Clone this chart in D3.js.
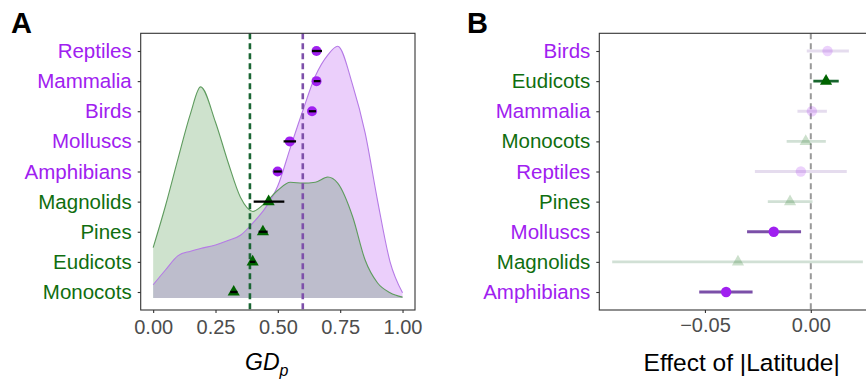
<!DOCTYPE html>
<html>
<head>
<meta charset="utf-8">
<script src="https://cdn.jsdelivr.net/npm/d3@7"></script>
<style>
  html, body { margin: 0; padding: 0; background: #fff; }
  svg { display: block; font-family: "Liberation Sans", Arial, sans-serif; }
</style>
</head>
<body>
<svg id="chart" width="866" height="379"></svg>
<script>
// ---------- Data: panel A ----------
const groupsA = ["Reptiles","Mammalia","Birds","Molluscs","Amphibians","Magnolids","Pines","Eudicots","Monocots"];
const kingdomA = ["animal","animal","animal","animal","animal","plant","plant","plant","plant"];
const gdMean = [0.655, 0.655, 0.637, 0.548, 0.499, 0.463, 0.440, 0.399, 0.323];
const gdLow  = [0.637, 0.644, 0.624, 0.523, 0.483, 0.403, 0.423, 0.388, 0.309];
const gdHigh = [0.677, 0.671, 0.653, 0.573, 0.516, 0.526, 0.459, 0.410, 0.338];
const densX      = [0, 0.05, 0.10, 0.15, 0.19, 0.25, 0.30, 0.35, 0.40, 0.45, 0.50, 0.55, 0.60, 0.65, 0.70, 0.74, 0.80, 0.85, 0.90, 0.95, 1.00];
const densAnimal = [0.15, 0.32, 0.48, 0.53, 0.56, 0.60, 0.65, 0.71, 0.85, 1.02, 1.27, 1.70, 2.12, 2.51, 2.75, 2.85, 2.41, 1.87, 1.10, 0.41, 0.06];
const densPlant  = [0.57, 1.05, 1.58, 2.09, 2.39, 1.99, 1.54, 1.14, 0.98, 1.08, 1.22, 1.31, 1.30, 1.31, 1.37, 1.30, 0.92, 0.43, 0.17, 0.06, 0.01];
const meanPlant = 0.388, meanAnimal = 0.600;
const xTicksA = [0, 0.25, 0.5, 0.75, 1.0];

// ---------- Data: panel B ----------
const groupsB = ["Birds","Eudicots","Mammalia","Monocots","Reptiles","Pines","Molluscs","Magnolids","Amphibians"];
const kingdomB = ["animal","plant","animal","plant","animal","plant","animal","plant","animal"];
const effEst  = [0.0079, 0.0072, 0.0005, -0.0024, -0.0047, -0.0098, -0.0175, -0.0344, -0.0400];
const effLow  = [-0.0019, 0.0012, -0.0063, -0.0114, -0.0264, -0.0203, -0.0301, -0.0938, -0.0527];
const effHigh = [0.0180, 0.0132, 0.0076, 0.0071, 0.0170, 0.0008, -0.0046, 0.0246, -0.0275];
const effSig  = [false, true, false, false, false, false, true, false, true];
const xTicksB = [-0.05, 0.00];

// ---------- Styles ----------
const C = {
  animalLabel: "#A020F0", plantLabel: "#0f6e0f",
  animalPt: "#A020F0", plantPt: "#006400",
  animalBar: "#7B4FA8", plantBar: "#17652d",
  animalFill: "#EBCFFB", plantFill: "#CEE2CD", overlap: "#BDBDCC",
  animalLine: "#B57AE6", plantLine: "#5E9B5E",
  animalMean: "#7E50AA", plantMean: "#1a6634",
  axisText: "#4D4D4D", tick: "#333333", border: "#333333"
};
const FONT_LBL = 20.5, FONT_TICK = 20, FONT_TITLE = 24.5;

const svg = d3.select("#chart");

// ================= PANEL A =================
const A = { left: 140.7, right: 415, top: 33.3, bottom: 310 };
const xA = d3.scaleLinear().domain([-0.05, 1.05]).range([A.left, A.right]);
const yA = d3.scalePoint().domain(groupsA).range([51, 292]);
const yDens = d3.scaleLinear().domain([0, 3]).range([298, 33]);

const gA = svg.append("g");
const animalPts = densX.map((x, i) => ({ x, y: densAnimal[i] }));
const plantPts = densX.map((x, i) => ({ x, y: densPlant[i] }));
const area = d3.area().x(d => xA(d.x)).y0(yDens(0)).y1(d => yDens(d.y)).curve(d3.curveMonotoneX);
const line = d3.line().x(d => xA(d.x)).y(d => yDens(d.y)).curve(d3.curveMonotoneX);

const defs = svg.append("defs");
defs.append("clipPath").attr("id", "clipAnimal").append("path").attr("d", area(animalPts));
defs.append("clipPath").attr("id", "clipB").append("rect")
  .attr("x", 599.3).attr("y", 33.3).attr("width", 280).attr("height", 276.7);

gA.append("path").attr("d", area(animalPts)).attr("fill", C.animalFill);
gA.append("path").attr("d", area(plantPts)).attr("fill", C.plantFill);
gA.append("path").attr("d", area(plantPts)).attr("fill", C.overlap).attr("clip-path", "url(#clipAnimal)");
gA.append("path").attr("d", line(animalPts)).attr("fill", "none").attr("stroke", C.animalLine).attr("stroke-width", 1.1);
gA.append("path").attr("d", line(plantPts)).attr("fill", "none").attr("stroke", C.plantLine).attr("stroke-width", 1.1);

// mean lines
[[meanPlant, C.plantMean], [meanAnimal, C.animalMean]].forEach(([m, col]) => {
  gA.append("line").attr("x1", xA(m)).attr("x2", xA(m)).attr("y1", A.top).attr("y2", A.bottom)
    .attr("stroke", col).attr("stroke-width", 2.6).attr("stroke-dasharray", "6,4");
});

// points
const symTri = d3.symbol().type(d3.symbolTriangle).size(64);
groupsA.forEach((g, i) => {
  const cx = xA(gdMean[i]), cy = yA(g);
  if (kingdomA[i] === "animal") {
    gA.append("circle").attr("cx", cx).attr("cy", cy).attr("r", 5).attr("fill", C.animalPt);
  } else {
    gA.append("path").attr("d", symTri()).attr("transform", `translate(${cx},${cy})`).attr("fill", C.plantPt);
  }
  gA.append("line").attr("x1", xA(gdLow[i])).attr("x2", xA(gdHigh[i])).attr("y1", cy).attr("y2", cy)
    .attr("stroke", "#000").attr("stroke-width", 2.3);
});

// border
gA.append("rect").attr("x", A.left).attr("y", A.top).attr("width", A.right - A.left).attr("height", A.bottom - A.top)
  .attr("fill", "none").attr("stroke", C.border).attr("stroke-width", 1.1);

// y axis A
const yAxisA = svg.append("g").attr("transform", `translate(${A.left},0)`)
  .call(d3.axisLeft(yA).tickSize(3).tickPadding(6));
yAxisA.select(".domain").remove();
yAxisA.selectAll(".tick line").attr("stroke", C.tick).attr("stroke-width", 1.1);
yAxisA.selectAll(".tick text")
  .attr("font-size", FONT_LBL).attr("font-family", null)
  .attr("fill", d => kingdomA[groupsA.indexOf(d)] === "animal" ? C.animalLabel : C.plantLabel);

// x axis A
const xAxisA = svg.append("g").attr("transform", `translate(0,${A.bottom})`)
  .call(d3.axisBottom(xA).tickValues(xTicksA).tickFormat(d3.format(".2f")).tickSize(3));
xAxisA.select(".domain").remove();
xAxisA.selectAll(".tick line").attr("stroke", C.tick).attr("stroke-width", 1.1);
xAxisA.selectAll(".tick text").attr("y", 24).attr("dy", null)
  .attr("font-size", FONT_TICK).attr("font-family", null).attr("fill", C.axisText);

// title A
const tA = svg.append("text").attr("x", 245).attr("y", 370).attr("font-size", 23).attr("font-style", "italic").attr("fill", "#000");
tA.append("tspan").text("GD");
tA.append("tspan").text("p").attr("font-size", 16).attr("dy", 6);

svg.append("text").attr("x", 11).attr("y", 33).attr("font-size", 29).attr("font-weight", "bold").text("A");

// ================= PANEL B =================
const B = { left: 599.3, right: 876, top: 33.3, bottom: 310 };
const xB = d3.scaleLinear().domain([-0.0999, 0.0308]).range([B.left, B.right]);
const yB = d3.scalePoint().domain(groupsB).range([51, 292]);

const gB = svg.append("g").attr("clip-path", "url(#clipB)");
gB.append("line").attr("x1", xB(0)).attr("x2", xB(0)).attr("y1", B.top).attr("y2", B.bottom)
  .attr("stroke", "#999999").attr("stroke-width", 2).attr("stroke-dasharray", "6,4");

groupsB.forEach((g, i) => {
  const cy = yB(g), cx = xB(effEst[i]);
  const animal = kingdomB[i] === "animal";
  const op = effSig[i] ? 1 : 0.2;
  gB.append("line").attr("x1", xB(effLow[i])).attr("x2", xB(effHigh[i])).attr("y1", cy).attr("y2", cy)
    .attr("stroke", animal ? C.animalBar : C.plantBar).attr("stroke-width", 2.8).attr("stroke-opacity", op);
  if (animal) {
    gB.append("circle").attr("cx", cx).attr("cy", cy).attr("r", 5.2).attr("fill", C.animalPt).attr("fill-opacity", op);
  } else {
    gB.append("path").attr("d", symTri()).attr("transform", `translate(${cx},${cy})`)
      .attr("fill", C.plantPt).attr("fill-opacity", op);
  }
});

// border B (right edge beyond view)
svg.append("rect").attr("x", B.left).attr("y", B.top).attr("width", B.right - B.left).attr("height", B.bottom - B.top)
  .attr("fill", "none").attr("stroke", C.border).attr("stroke-width", 1.1);

const yAxisB = svg.append("g").attr("transform", `translate(${B.left},0)`)
  .call(d3.axisLeft(yB).tickSize(3).tickPadding(6));
yAxisB.select(".domain").remove();
yAxisB.selectAll(".tick line").attr("stroke", C.tick).attr("stroke-width", 1.1);
yAxisB.selectAll(".tick text")
  .attr("font-size", FONT_LBL).attr("font-family", null)
  .attr("fill", d => kingdomB[groupsB.indexOf(d)] === "animal" ? C.animalLabel : C.plantLabel);

const xAxisB = svg.append("g").attr("transform", `translate(0,${B.bottom})`)
  .call(d3.axisBottom(xB).tickValues(xTicksB).tickFormat(d3.format(".2f")).tickSize(3));
xAxisB.select(".domain").remove();
xAxisB.selectAll(".tick line").attr("stroke", C.tick).attr("stroke-width", 1.1);
xAxisB.selectAll(".tick text").attr("y", 22).attr("dy", null)
  .attr("font-size", FONT_TICK).attr("font-family", null).attr("fill", C.axisText);

svg.append("text").attr("x", 741.7).attr("y", 371).attr("text-anchor", "middle")
  .attr("font-size", FONT_TITLE).attr("fill", "#000").text("Effect of |Latitude|");

svg.append("text").attr("x", 467).attr("y", 33).attr("font-size", 29).attr("font-weight", "bold").text("B");
</script>
</body>
</html>
